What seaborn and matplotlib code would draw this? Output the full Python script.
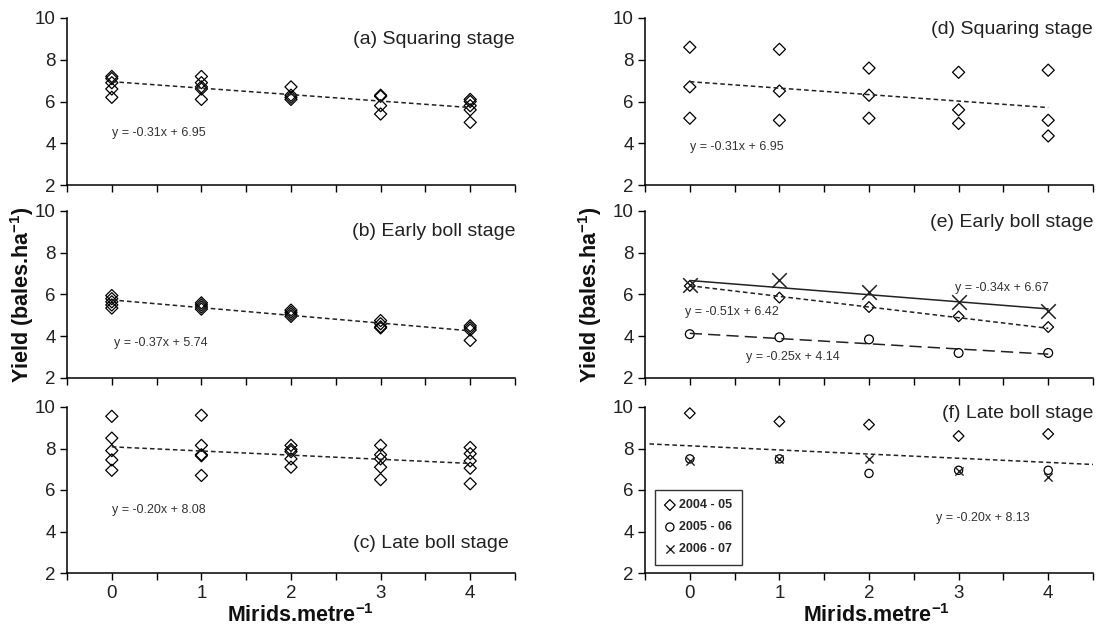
import numpy as np
import pandas as pd
import matplotlib.pyplot as plt
import seaborn as sns

# Mirids per metre (treatment levels)
mirids = [0, 1, 2, 3, 4]

# left column: yield of all sites pooled, one list per mirid level
squaring_all = [[7.2, 7.1, 6.9, 6.6, 6.2], [7.2, 6.9, 6.7, 6.6, 6.1], [6.7, 6.3, 6.2, 6.1],
                [6.3, 6.25, 5.8, 5.4], [6.1, 6.0, 5.8, 5.6, 5.0]]
earlyboll_all = [[5.95, 5.8, 5.65, 5.5, 5.35], [5.6, 5.5, 5.4, 5.3], [5.25, 5.15, 5.05, 4.95],
                 [4.75, 4.6, 4.45, 4.4], [4.5, 4.4, 4.3, 3.8]]
lateboll_all = [[9.55, 8.5, 7.9, 7.45, 6.95], [9.6, 8.15, 7.7, 7.65, 6.7], [8.15, 7.95, 7.85, 7.5, 7.1],
                [8.15, 7.7, 7.5, 7.1, 6.5], [8.05, 7.75, 7.4, 7.05, 6.3]]

# right column: yield by season
squaring_season = [[8.6, 6.7, 5.2], [8.5, 6.5, 5.1], [7.6, 6.3, 5.2], [7.4, 5.6, 4.95], [7.5, 5.1, 4.35]]
seasons = ['2004 - 05', '2005 - 06', '2006 - 07']
earlyboll_0405 = [6.41, 5.85, 5.4, 4.95, 4.44]
earlyboll_0506 = [4.1, 3.95, 3.85, 3.2, 3.2]
earlyboll_0607 = [6.45, 6.7, 6.1, 5.65, 5.2]
lateboll_0405 = [9.7, 9.3, 9.15, 8.6, 8.7]
lateboll_0506 = [7.5, 7.5, 6.8, 6.95, 6.95]
lateboll_0607 = [7.4, 7.5, 7.5, 6.9, 6.65]

# fitted lines (slope, intercept)
fit_a = (-0.31, 6.95)
fit_b = (-0.37, 5.74)
fit_c = (-0.20, 8.08)
fit_d = (-0.31, 6.95)
fit_e = {'2004 - 05': (-0.51, 6.42), '2005 - 06': (-0.25, 4.14), '2006 - 07': (-0.34, 6.67)}
fit_f = (-0.20, 8.13)


def to_frame(groups):
    rows = []
    for x, vals in zip(mirids, groups):
        for v in vals:
            rows.append({'mirids': x, 'yield': v})
    return pd.DataFrame(rows)


def eq_text(fit):
    return f'y = {fit[0]:.2f}x + {fit[1]:.2f}'


def fit_line(ax, fit, x0=0, x1=4, ls=(0, (3, 2)), lw=1.1):
    xx = np.array([x0, x1])
    sns.lineplot(x=xx, y=fit[0] * xx + fit[1], ax=ax, color='#222222', linestyle=ls, linewidth=lw)


sns.set_style('ticks')
plt.rcParams['font.family'] = ['Liberation Sans', 'DejaVu Sans']
plt.rcParams['mathtext.fontset'] = 'custom'
plt.rcParams['mathtext.bf'] = 'Liberation Sans:bold'
plt.rcParams['mathtext.rm'] = 'Liberation Sans'

fig = plt.figure(figsize=(11.02, 6.4), dpi=100)
W, H = 1102, 640
col_left = [67, 645]
rows_px = [(18, 185), (211, 378), (407, 573)]
axes = {}
names = [['a', 'b', 'c'], ['d', 'e', 'f']]
for ci, cx in enumerate(col_left):
    for ri, (top, bot) in enumerate(rows_px):
        ax = fig.add_axes([cx / W, 1 - bot / H, 448 / W, (bot - top) / H])
        axes[names[ci][ri]] = ax

open_kw = dict(facecolors='none', edgecolors='black', linewidths=0.9)
eq_kw = dict(fontsize=9, va='center', color='#333333')
title_kw = dict(ha='right', va='center', fontsize=14, color='#222222')

# (a)
ax = axes['a']
sns.scatterplot(data=to_frame(squaring_all), x='mirids', y='yield', marker='D', s=38, ax=ax, **open_kw)
fit_line(ax, fit_a)
ax.text(0, 4.5, eq_text(fit_a), **eq_kw)
ax.text(1.0, 0.87, '(a) Squaring stage', transform=ax.transAxes, **title_kw)

# (b)
ax = axes['b']
sns.scatterplot(data=to_frame(earlyboll_all), x='mirids', y='yield', marker='D', s=38, ax=ax, **open_kw)
fit_line(ax, fit_b)
ax.text(0.02, 3.7, eq_text(fit_b), **eq_kw)
ax.text(1.0, 0.88, '(b) Early boll stage', transform=ax.transAxes, **title_kw)

# (c)
ax = axes['c']
sns.scatterplot(data=to_frame(lateboll_all), x='mirids', y='yield', marker='D', s=38, ax=ax, **open_kw)
fit_line(ax, fit_c)
ax.text(0, 5.05, eq_text(fit_c), **eq_kw)
ax.text(0.985, 0.18, '(c) Late boll stage', transform=ax.transAxes, **title_kw)

# (d)
ax = axes['d']
sns.scatterplot(data=to_frame(squaring_season), x='mirids', y='yield', marker='D', s=38, ax=ax, **open_kw)
fit_line(ax, fit_d)
ax.text(0, 3.8, eq_text(fit_d), **eq_kw)
ax.text(1.0, 0.93, '(d) Squaring stage', transform=ax.transAxes, **title_kw)

# (e)
ax = axes['e']
styles_e = {'2004 - 05': ('D', 30, (0, (3, 2))), '2005 - 06': ('o', 40, (0, (8, 4))), '2006 - 07': ('x', 110, '-')}
for season, vals in zip(seasons, [earlyboll_0405, earlyboll_0506, earlyboll_0607]):
    mk, sz, ls = styles_e[season]
    fit_line(ax, fit_e[season], ls=ls)
    if mk == 'x':
        sns.scatterplot(x=mirids, y=vals, marker=mk, s=sz, color='#222222', linewidth=1.1, ax=ax)
    else:
        sns.scatterplot(x=mirids, y=vals, marker=mk, s=sz, ax=ax, **open_kw)
ax.text(2.96, 6.3, eq_text(fit_e['2006 - 07']), **eq_kw)
ax.text(-0.05, 5.15, eq_text(fit_e['2004 - 05']), **eq_kw)
ax.text(0.63, 3.0, eq_text(fit_e['2005 - 06']), **eq_kw)
ax.text(1.0, 0.93, '(e) Early boll stage', transform=ax.transAxes, **title_kw)

# (f)
ax = axes['f']
fit_line(ax, fit_f, x0=-0.45, x1=4.5)
sns.scatterplot(x=mirids, y=lateboll_0405, marker='D', s=30, ax=ax, label=seasons[0], **open_kw)
sns.scatterplot(x=mirids, y=lateboll_0506, marker='o', s=35, ax=ax, label=seasons[1], **open_kw)
sns.scatterplot(x=mirids, y=lateboll_0607, marker='x', s=35, color='#222222', linewidth=1.0, ax=ax,
                label=seasons[2])
ax.text(2.75, 4.65, eq_text(fit_f), **eq_kw)
ax.text(1.0, 0.96, '(f) Late boll stage', transform=ax.transAxes, **title_kw)
leg = ax.legend(loc='lower left', bbox_to_anchor=(0.022, 0.05), frameon=True, fancybox=False,
                prop={'weight': 'bold', 'size': 9}, handletextpad=0.3, borderpad=0.75,
                labelspacing=0.8, handlelength=0.9, borderaxespad=0)
leg.get_frame().set_edgecolor('black')
leg.get_frame().set_linewidth(1.0)

for key, ax in axes.items():
    ax.set_xlim(-0.5, 4.5)
    ax.set_ylim(2, 10)
    ax.set_xticks(np.arange(-0.5, 4.51, 0.5))
    ax.set_yticks([2, 4, 6, 8, 10])
    ax.set_yticklabels(['2', '4', '6', '8', '10'], fontsize=13.5, color='#222222')
    if key in ('c', 'f'):
        ax.set_xticklabels(['' if t % 1 else str(int(t)) for t in np.arange(-0.5, 4.51, 0.5)],
                           fontsize=13.5, color='#222222')
    else:
        ax.set_xticklabels([])
    ax.tick_params(direction='out', length=5, width=1, color='black', pad=3)
    ax.tick_params(axis='x', pad=4)
    ax.set_xlabel('')
    ax.set_ylabel('')
    sns.despine(ax=ax)
    for sp in ('left', 'bottom'):
        ax.spines[sp].set_color('black')
        ax.spines[sp].set_linewidth(1.1)

ylab = 'Yield (bales.ha$^{\\mathbf{-1}}$)'
xlab = 'Mirids.metre$^{\\mathbf{-1}}$'
lab_kw = dict(ha='center', va='center', fontsize=15.5, fontweight='bold', color='#111111')
fig.text(22 / W, 1 - 295 / H, ylab, rotation=90, **lab_kw)
fig.text(590 / W, 1 - 295 / H, ylab, rotation=90, **lab_kw)
fig.text(300 / W, 1 - 616 / H, xlab, **lab_kw)
fig.text(876 / W, 1 - 616 / H, xlab, **lab_kw)

fig.savefig('out.png', dpi=100)
